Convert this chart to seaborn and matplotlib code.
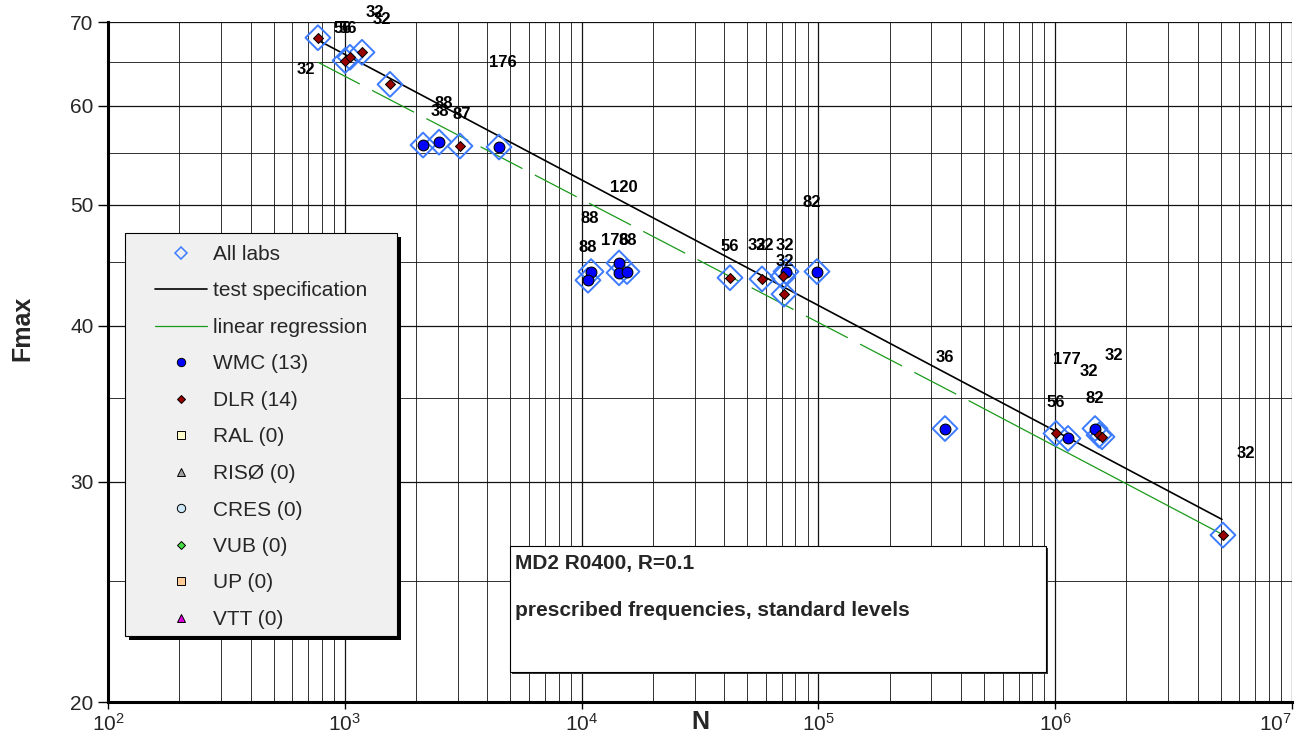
import numpy as np
import pandas as pd
import matplotlib
matplotlib.use("Agg")
import matplotlib.pyplot as plt
import seaborn as sns
from matplotlib.lines import Line2D
from matplotlib.patches import Rectangle
from matplotlib.ticker import LogLocator, NullFormatter

# ---------------- data ----------------
wmc_N = [2140, 2500, 4480, 10960, 10640, 14390, 14390, 15550, 72990, 98640,
         342400, 1133000, 1473000]
wmc_F = [55.8, 56.1, 55.6, 44.2, 43.5, 44.9, 44.1, 44.2, 44.2, 44.2,
         33.1, 32.5, 33.1]

dlr_N = [770, 1003, 1052, 1182, 1552, 3065, 42330, 57790, 70880, 71570,
         1008000, 1531000, 1576000, 5110000]
dlr_F = [68.0, 65.2, 65.6, 66.2, 62.4, 55.7, 43.7, 43.6, 43.8, 42.4,
         32.8, 32.7, 32.6, 27.2]

spec_N = [770, 5.06e6]
spec_F = [67.7, 28.0]

reg_N = [770, 4.37e5, 4.96e6]
reg_F = [65.0, 34.8, 27.3]

lab_text = ["32", "56", "56", "32", "32", "176", "88", "38", "87", "120",
            "88", "88", "176", "88", "56", "32", "32", "32", "32", "82",
            "36", "177", "32", "32", "82", "56", "32"]
lab_N = [686, 983, 1031, 1341, 1436, 4656, 2624, 2523, 3125, 15110,
         10850, 10640, 13840, 15700, 42330, 55050, 59500, 72300, 72300, 93960,
         342400, 1122000, 1389000, 1772000, 1472000, 1008000, 6393000]
lab_F = [64.1, 69.2, 69.2, 71.2, 70.3, 65.0, 60.2, 59.4, 59.0, 51.65,
         48.7, 46.2, 46.8, 46.8, 46.3, 46.4, 46.4, 46.4, 45.0, 50.2,
         37.7, 37.6, 36.8, 37.9, 35.0, 34.7, 31.6]

legend_labels = ["All labs", "test specification", "linear regression",
                 "WMC (13)", "DLR (14)", "RAL (0)", "RISØ (0)", "CRES (0)",
                 "VUB (0)", "UP (0)", "VTT (0)"]

y_major = [20, 30, 40, 50, 60, 70]
y_minor = [25, 35, 45, 55, 65]
x_major = [1e2, 1e3, 1e4, 1e5, 1e6, 1e7]
x_major_labels = ["$10^{2}$", "$10^{3}$", "$10^{4}$", "$10^{5}$", "$10^{6}$", "$10^{7}$"]

box_line1 = "MD2 R0400, R=0.1"
box_line2 = "prescribed frequencies, standard levels"

# ---------------- style ----------------
sns.set_theme(style="white")
plt.rcParams["font.family"] = ["Liberation Sans", "DejaVu Sans"]
plt.rcParams["mathtext.default"] = "regular"
plt.rcParams["lines.scale_dashes"] = False

W, H = 1303, 749
fig = plt.figure(figsize=(W / 100, H / 100), dpi=100)
ax = fig.add_axes([108 / W, 1 - 702 / H, (1292 - 108) / W, (702 - 22) / H])

BLUE = "#3d7bff"
WMC_C = "#0000ff"
DLR_C = "#990000"
GREEN = "#1a9a1a"

df_all = pd.DataFrame({"N": wmc_N + dlr_N, "F": wmc_F + dlr_F})
df_wmc = pd.DataFrame({"N": wmc_N, "F": wmc_F})
df_dlr = pd.DataFrame({"N": dlr_N, "F": dlr_F})
df_spec = pd.DataFrame({"N": spec_N, "F": spec_F})
df_reg = pd.DataFrame({"N": reg_N, "F": reg_F})

ax.set_xscale("log")
ax.set_yscale("log")

# lines
sns.lineplot(data=df_spec, x="N", y="F", color="black", lw=1.2, sort=False,
             estimator=None, ax=ax, zorder=2)
sns.lineplot(data=df_reg.iloc[:2], x="N", y="F", color=GREEN, lw=0.9,
             sort=False, estimator=None, ax=ax, zorder=2, dashes=False)
ax.lines[-1].set_dashes((34, 10))
sns.lineplot(data=df_reg.iloc[1:], x="N", y="F", color=GREEN, lw=0.9,
             sort=False, estimator=None, ax=ax, zorder=2)

# markers
sns.scatterplot(data=df_all, x="N", y="F", marker="D", s=160, color=BLUE,
                facecolors="none", edgecolors=BLUE, linewidths=1.4,
                legend=False, ax=ax, zorder=3)
sns.scatterplot(data=df_wmc, x="N", y="F", marker="o", s=60, color=WMC_C,
                edgecolor="black", linewidth=0.8, legend=False, ax=ax, zorder=4)
sns.scatterplot(data=df_dlr, x="N", y="F", marker="D", s=26, color=DLR_C,
                edgecolor="black", linewidth=0.7, legend=False, ax=ax, zorder=5)

# number labels
for t, n, f in zip(lab_text, lab_N, lab_F):
    ax.text(n, f, t, ha="center", va="center", fontsize=12, fontweight="bold",
            color="black", zorder=6, clip_on=False)

# axes
ax.set_xlim(1e2, 1e7)
ax.set_ylim(20, 70)
ax.set_yticks(y_major, [str(v) for v in y_major])
ax.set_yticks(y_minor, minor=True)
ax.yaxis.set_minor_formatter(NullFormatter())
ax.set_xticks(x_major, x_major_labels)
ax.xaxis.set_minor_locator(LogLocator(base=10, subs=np.arange(2, 10)))
ax.xaxis.set_minor_formatter(NullFormatter())
ax.get_xticklabels()[-1].set_ha("right")

ax.tick_params(axis="y", which="major", direction="out", length=7.5, width=1,
               color="black", labelsize=15, pad=3, left=True)
ax.tick_params(axis="y", which="minor", length=0)
ax.tick_params(axis="x", which="major", direction="out", length=5, width=1,
               color="black", labelsize=15, pad=3, bottom=True)
ax.tick_params(axis="x", which="minor", length=0)

ax.grid(True, which="major", color="#111111", lw=0.9)
ax.grid(True, which="minor", color="#111111", lw=0.6)
ax.set_axisbelow(True)

for s in ["top", "right"]:
    ax.spines[s].set_visible(False)
for s in ["left", "bottom"]:
    ax.spines[s].set_color("black")
    ax.spines[s].set_linewidth(2.2)
    ax.spines[s].set_zorder(7)

ax.set_xlabel("N", fontsize=18, fontweight="bold")
ax.set_ylabel("Fmax", fontsize=18, fontweight="bold")
ax.xaxis.set_label_coords(0.5, (702 - 722) / 680)
ax.xaxis.label.set_va("center")
ax.yaxis.set_label_coords((22 - 108) / 1184, (702 - 328) / 680)
ax.yaxis.label.set_va("center")
ax.yaxis.label.set_ha("center")


def fig_rect(x0, y0, x1, y1, **kw):
    return Rectangle((x0 / W, 1 - y1 / H), (x1 - x0) / W, (y1 - y0) / H,
                     transform=fig.transFigure, **kw)


# legend box
fig.add_artist(fig_rect(129, 237, 401, 640, facecolor="black", edgecolor="none", zorder=8))
fig.add_artist(fig_rect(125, 233, 397, 636, facecolor="#f0f0f0", edgecolor="black",
                        lw=0.8, zorder=9))

handles = [
    Line2D([], [], ls="none", marker="D", ms=6.5, mfc="none", mec=BLUE, mew=1.1),
    Line2D([], [], color="black", lw=1.2),
    Line2D([], [], color=GREEN, lw=0.9),
    Line2D([], [], ls="none", marker="o", ms=6, mfc=WMC_C, mec="black", mew=0.7),
    Line2D([], [], ls="none", marker="D", ms=4, mfc=DLR_C, mec="black", mew=0.7),
    Line2D([], [], ls="none", marker="s", ms=5.5, mfc="#ffffcc", mec="black", mew=0.7),
    Line2D([], [], ls="none", marker="^", ms=6, mfc="#a0a0a0", mec="black", mew=0.7),
    Line2D([], [], ls="none", marker="o", ms=6, mfc="#cce8f8", mec="black", mew=0.7),
    Line2D([], [], ls="none", marker="D", ms=4.5, mfc="#44dd44", mec="black", mew=0.7),
    Line2D([], [], ls="none", marker="s", ms=5.5, mfc="#ffcc99", mec="black", mew=0.7),
    Line2D([], [], ls="none", marker="^", ms=6, mfc="#dd00dd", mec="black", mew=0.7),
]
leg = fig.legend(handles, legend_labels, loc="upper left",
                 bbox_to_anchor=(155 / W, 1 - 245 / H), bbox_transform=fig.transFigure,
                 frameon=False, fontsize=15, handlelength=2.5, handletextpad=0.3,
                 labelspacing=0.84, borderpad=0, borderaxespad=0)
leg.set_zorder(10)

# text box
fig.add_artist(fig_rect(512, 548, 1048, 674, facecolor="#333333", edgecolor="none", zorder=8))
fig.add_artist(fig_rect(510, 546, 1046, 672, facecolor="white", edgecolor="black",
                        lw=0.8, zorder=9))
fig.text(515 / W, 1 - 564 / H, box_line1, ha="left", va="center", fontsize=15,
         fontweight="bold", zorder=10)
fig.text(515 / W, 1 - 610 / H, box_line2, ha="left", va="center", fontsize=15,
         fontweight="bold", zorder=10)

fig.savefig("out.png", dpi=100)
